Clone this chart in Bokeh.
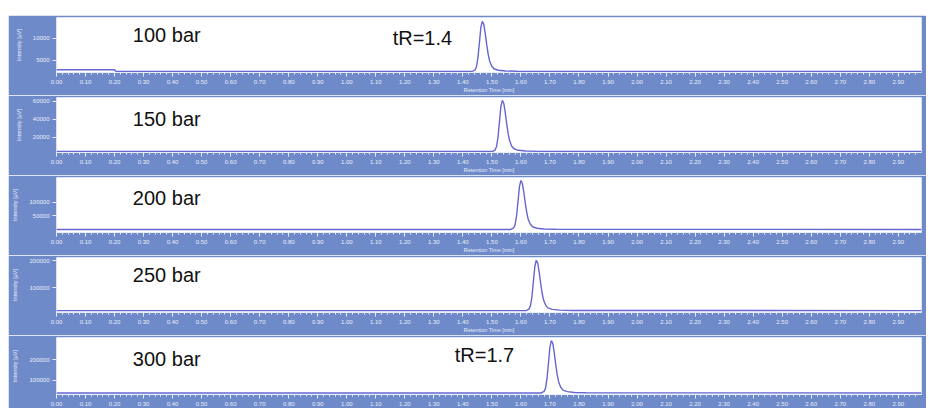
from bokeh.plotting import figure
from bokeh.layouts import column, row
from bokeh.models import Spacer, Label, FixedTicker, SingleIntervalTicker, NumeralTickFormatter, Range1d
from bokeh.embed import file_html
from bokeh.resources import INLINE

# ---------------- data ----------------
pressure_labels = ["100 bar", "150 bar", "200 bar", "250 bar", "300 bar"]

t_100 = [0.00, 0.20, 0.205, 1.432, 1.442, 1.447, 1.452, 1.457, 1.462, 1.467, 1.472, 1.477, 1.482,
         1.487, 1.492, 1.499, 1.507, 1.522, 1.547, 1.587, 2.98]
i_100 = [2800, 2800, 2400, 2400, 2750, 3550, 5620, 9070, 12520, 13900, 13210, 11140, 8610,
         6430, 4820, 3670, 3030, 2690, 2520, 2450, 2400]

t_150 = [0.00, 1.501, 1.511, 1.516, 1.521, 1.526, 1.531, 1.536, 1.541, 1.546, 1.551, 1.556, 1.561,
         1.568, 1.576, 1.591, 1.616, 1.656, 2.98]
i_150 = [4200, 4200, 5900, 9900, 20100, 37100, 54200, 61000, 57600, 47400, 34900, 24100, 16100,
         10400, 7300, 5600, 4800, 4400, 4200]

t_200 = [0.00, 1.565, 1.575, 1.580, 1.585, 1.590, 1.595, 1.600, 1.605, 1.610, 1.615, 1.620, 1.625,
         1.632, 1.640, 1.655, 1.680, 1.720, 2.98]
i_200 = [1000, 1000, 6300, 18700, 50600, 103700, 156800, 178000, 167400, 135500, 96600, 63000, 38200,
         20500, 10700, 5400, 2800, 1700, 1000]

t_250 = [0.00, 1.618, 1.628, 1.633, 1.638, 1.643, 1.648, 1.653, 1.658, 1.663, 1.668, 1.673, 1.678,
         1.685, 1.693, 1.708, 1.733, 1.773, 2.98]
i_250 = [16800, 16800, 22400, 35300, 68700, 124200, 179800, 202000, 190900, 157600, 116800, 81600, 55700,
         37200, 27000, 21400, 18700, 17500, 16800]

t_300 = [0.00, 1.670, 1.680, 1.685, 1.690, 1.695, 1.700, 1.705, 1.710, 1.715, 1.720, 1.725, 1.730,
         1.737, 1.745, 1.760, 1.785, 1.825, 2.98]
i_300 = [37500, 37500, 45200, 63300, 109600, 186900, 264100, 295000, 279600, 233200, 176600, 127600, 91600,
         65800, 51700, 43900, 40100, 38500, 37500]

y_ranges = [(2170, 14800), (3160, 64200), (-10000, 189000), (10000, 212000), (30000, 310000)]
y_ticks = [[5000, 10000], [20000, 40000, 60000], [50000, 100000], [100000, 200000], [100000, 200000]]

# annotation anchors (time, intensity)
bar_label_pos = [(0.263, 10870), (0.263, 40500), (0.263, 116000), (0.263, 148000), (0.263, 205000)]
tr_labels = [(0, "tR=1.4", 1.158, 10000), (4, "tR=1.7", 1.372, 225000)]

x_range_max = 2.98

# ---------------- style ----------------
BAND = "#6f8ac9"
LINE = "#6565d3"
TICK_TXT = "#e8eef9"
ANN_FONT = "Liberation Sans"

series = [(t_100, i_100), (t_150, i_150), (t_200, i_200), (t_250, i_250), (t_300, i_300)]

children = [Spacer(width=918, height=15)]
for k, (tt, ii) in enumerate(series):
    last = k == len(series) - 1
    p = figure(width=918, height=73 if last else 80, output_backend="svg", toolbar_location=None,
               x_range=Range1d(0, x_range_max), y_range=Range1d(*y_ranges[k]),
               min_border_left=48, min_border_right=5, min_border_top=2,
               min_border_bottom=14 if last else 20,
               border_fill_color=BAND, background_fill_color="white", outline_line_color=None)
    p.xgrid.visible = False
    p.ygrid.visible = False
    p.line(tt, ii, line_color=LINE, line_width=1.4)

    xa = p.xaxis[0]
    xa.ticker = SingleIntervalTicker(interval=0.1, num_minor_ticks=5)
    xa.formatter = NumeralTickFormatter(format="0.00")
    xa.major_label_text_font = "Liberation Sans"
    xa.major_label_text_font_size = "6px"
    xa.major_label_text_color = TICK_TXT
    xa.major_label_standoff = 3
    xa.axis_line_color = TICK_TXT
    xa.major_tick_line_color = TICK_TXT
    xa.minor_tick_line_color = TICK_TXT
    xa.major_tick_out = 4
    xa.major_tick_in = 0
    xa.minor_tick_out = 2
    xa.minor_tick_in = 0
    if not last:
        xa.axis_label = "Retention Time [min]"
        xa.axis_label_text_font = "Liberation Sans"
        xa.axis_label_text_font_size = "5.5px"
        xa.axis_label_text_font_style = "normal"
        xa.axis_label_text_color = TICK_TXT
        xa.axis_label_standoff = 0

    ya = p.yaxis[0]
    ya.ticker = FixedTicker(ticks=y_ticks[k])
    ya.formatter = NumeralTickFormatter(format="0")
    ya.major_label_text_font = "Liberation Sans"
    ya.major_label_text_font_size = "6px"
    ya.major_label_text_color = TICK_TXT
    ya.major_label_standoff = 3
    ya.axis_line_color = None
    ya.major_tick_line_color = TICK_TXT
    ya.major_tick_out = 4
    ya.major_tick_in = 0
    ya.axis_label = "Intensity [µV]"
    ya.axis_label_text_font = "Liberation Sans"
    ya.axis_label_text_font_size = "5.5px"
    ya.axis_label_text_font_style = "normal"
    ya.axis_label_text_color = TICK_TXT
    ya.axis_label_standoff = 8

    lx, ly = bar_label_pos[k]
    p.add_layout(Label(x=lx, y=ly, text=pressure_labels[k], text_font=ANN_FONT,
                       text_font_size="20px", text_baseline="middle", text_color="#111111"))
    for (pk, txt, tx, ty) in tr_labels:
        if pk == k:
            p.add_layout(Label(x=tx, y=ty, text=txt, text_font=ANN_FONT,
                               text_font_size="20px", text_baseline="middle", text_color="#111111"))
    children.append(p)

layout = row(Spacer(width=8, height=408), column(*children, spacing=0), spacing=0)
open("out.html", "w").write(file_html(layout, INLINE))
